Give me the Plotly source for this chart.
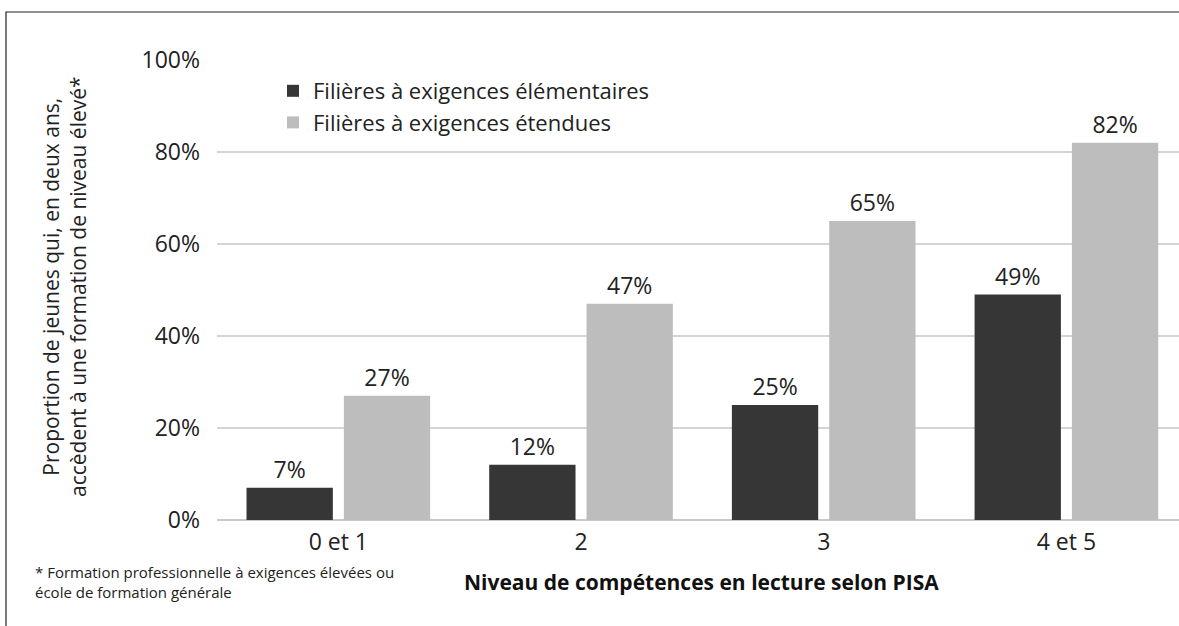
import plotly.graph_objects as go

categories = ["0 et 1", "2", "3", "4 et 5"]
series_names = ["Filières à exigences élémentaires", "Filières à exigences étendues"]
elementaires = [7, 12, 25, 49]
etendues = [27, 47, 65, 82]
y_ticks = [0, 20, 40, 60, 80, 100]
y_ticktext = [f"{v}%" for v in y_ticks]
y_title_lines = ["Proportion de jeunes qui, en deux ans,", "accèdent à une formation de niveau élevé*"]
x_title = "Niveau de compétences en lecture selon PISA"
footnote_lines = ["* Formation professionnelle à exigences élevées ou", "école de formation générale"]

W, H = 1179, 626
L, R, T, B = 217, 0, 60, 106
PW = W - L - R
PH = H - T - B

def px_x(px):
    return (px - L) / PW

def px_y(py):
    return (H - B - py) / PH

FONT = "Open Sans"
TXT = "#222222"
colors = ["#363636", "#bdbdbd"]

fig = go.Figure()
for i, (name, vals) in enumerate(zip(series_names, [elementaires, etendues])):
    fig.add_trace(go.Bar(
        x=categories, y=vals, name=name,
        marker=dict(color=colors[i], line=dict(width=0)),
        text=[f"{v}%" for v in vals], textposition="outside",
        textfont=dict(family=FONT, size=23, color=TXT),
        cliponaxis=False, legendgroup=f"g{i}",
    ))

fig.update_layout(
    width=W, height=H,
    margin=dict(l=L, r=R, t=T, b=B, pad=0),
    paper_bgcolor="white", plot_bgcolor="white",
    font=dict(family=FONT, color=TXT),
    barmode="group", bargap=0.198, bargroupgap=0.113,
    showlegend=True,
    legend=dict(x=px_x(273), y=px_y(70), xanchor="left", yanchor="top",
                font=dict(family=FONT, size=22, color=TXT),
                bgcolor="rgba(0,0,0,0)", tracegroupgap=2,
                traceorder="normal"),
    xaxis=dict(range=[-0.5, 3.464], showgrid=False, showline=False, ticks="",
               tickfont=dict(family=FONT, size=23, color=TXT),
               ticklabelstandoff=6, zeroline=False),
    yaxis=dict(range=[0, 100], tickmode="array", tickvals=y_ticks, ticktext=y_ticktext,
               showgrid=True, gridcolor="#d4d4d4", gridwidth=1.5,
               zeroline=True, zerolinecolor="#c8c8c8", zerolinewidth=1.5,
               showline=False, ticks="",
               tickfont=dict(family=FONT, size=23, color=TXT),
               ticklabelstandoff=16),
)

annotations = [
    dict(text="<br>".join(y_title_lines), x=px_x(64), y=px_y(287), xref="paper", yref="paper",
         textangle=-90, showarrow=False, xanchor="center", yanchor="middle",
         font=dict(family=FONT, size=21, color=TXT), align="center"),
    dict(text=f"<b>{x_title}</b>", x=px_x(701), y=px_y(582), xref="paper", yref="paper",
         showarrow=False, xanchor="center", yanchor="middle",
         font=dict(family=FONT, size=21, color="#111111")),
    dict(text="<br>".join(footnote_lines), x=px_x(33), y=px_y(582), xref="paper", yref="paper",
         showarrow=False, xanchor="left", yanchor="middle", align="left",
         font=dict(family=FONT, size=15, color=TXT)),
]
fig.update_layout(annotations=annotations)

fig.add_shape(type="rect", xref="paper", yref="paper",
              x0=px_x(6), x1=px_x(1195), y0=px_y(650), y1=px_y(12),
              line=dict(color="#222222", width=1.2), fillcolor="rgba(0,0,0,0)", layer="above")

fig.write_html("out.html", config={"displayModeBar": False},
               post_script="document.body.style.margin='0';document.body.style.overflow='hidden';")
